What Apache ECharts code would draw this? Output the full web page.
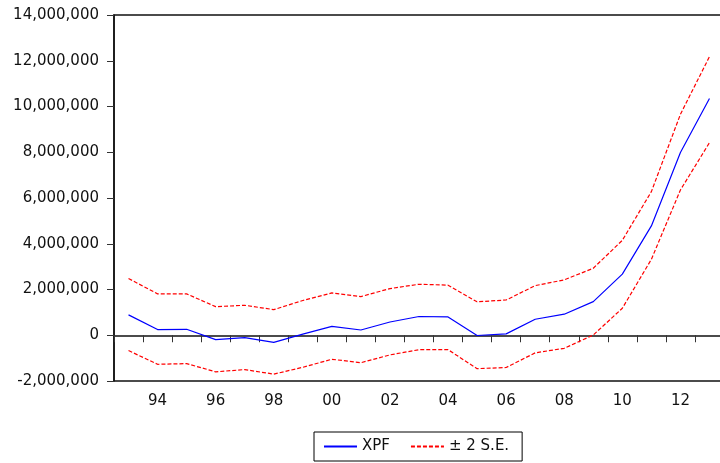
<!DOCTYPE html>
<html><head><meta charset="utf-8">
<script src="https://cdn.jsdelivr.net/npm/echarts@6/dist/echarts.min.js"></script>
<style>html,body{margin:0;padding:0;background:#fff}#c{width:720px;height:463px}</style>
</head><body><div id="c"></div>
<script>
const years = ['93','94','95','96','97','98','99','00','01','02','03','04','05','06','07','08','09','10','11','12','13'];
const xpf = [890000,250000,260000,-190000,-100000,-310000,50000,390000,230000,580000,820000,800000,-10000,60000,700000,920000,1470000,2670000,4780000,7990000,10350000];
const upper = [2480000,1810000,1810000,1250000,1310000,1120000,1520000,1850000,1690000,2040000,2230000,2190000,1460000,1540000,2170000,2420000,2930000,4150000,6280000,9660000,12180000];
const lower = [-670000,-1270000,-1240000,-1600000,-1500000,-1700000,-1400000,-1050000,-1200000,-860000,-630000,-630000,-1460000,-1410000,-770000,-570000,10000,1180000,3320000,6350000,8420000];
const yTicks = {min:-2000000, max:14000000, interval:2000000};

const chart = echarts.init(document.getElementById('c'), null, {renderer:'canvas'});
const font = 'DejaVu Sans, sans-serif';
chart.setOption({
  animation:false,
  grid:{left:114, top:15, width:610, height:366, outerBoundsMode:'none', containLabel:false, show:true, borderColor:'#111', borderWidth:1.5, backgroundColor:'transparent'},
  xAxis:{type:'category', data:years, boundaryGap:true,
    axisLine:{lineStyle:{color:'#111', width:1.5}},
    axisTick:{show:true, interval:0, length:7, lineStyle:{color:'#333'}},
    axisLabel:{interval:function(i){return i%2===1;}, color:'#111', fontSize:15, fontFamily:font, margin:13}
  },
  yAxis:{type:'value', min:yTicks.min, max:yTicks.max, interval:yTicks.interval,
    axisLine:{show:true, lineStyle:{color:'#111', width:1.5}},
    axisTick:{show:true, length:7, lineStyle:{color:'#333'}},
    splitLine:{show:false},
    axisLabel:{color:'#111', fontSize:15, fontFamily:font, margin:15,
      formatter:function(v){return v.toLocaleString('en-US');}}
  },
  legend:{left:314, top:432, itemWidth:33, itemHeight:14, itemGap:20,
    padding:[7,13,7,9], borderColor:'#000', borderWidth:1, borderRadius:0,
    itemStyle:{color:'rgba(0,0,0,0)', borderWidth:0, opacity:0},
    textStyle:{fontSize:15, fontFamily:font, color:'#111'},
    data:['XPF','± 2 S.E.']},
  series:[
    {name:'XPF', type:'line', data:xpf, symbol:'none', lineStyle:{color:'#0000ff', width:1.2}, itemStyle:{color:'#0000ff'}},
    {name:'± 2 S.E.', type:'line', data:upper, symbol:'none', lineStyle:{color:'#ff0000', width:1.2, type:[4,2]}, itemStyle:{color:'#ff0000'}},
    {name:'± 2 S.E.', type:'line', data:lower, symbol:'none', lineStyle:{color:'#ff0000', width:1.2, type:[4,2]}, itemStyle:{color:'#ff0000'}}
  ]
});
</script></body></html>
